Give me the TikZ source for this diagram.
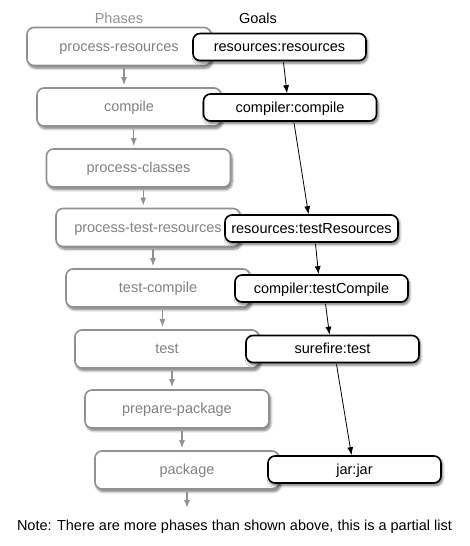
\documentclass[tikz,border=0pt]{standalone}
\usepackage{fontspec}
\setmainfont{Liberation Sans}
\usetikzlibrary{positioning,shadows,shadows.blur,arrows.meta,calc}

\definecolor{phasegray}{RGB}{145,145,145}
\definecolor{phasetext}{RGB}{130,130,130}
\tikzset{
  phase/.style={draw=phasegray, line width=1.6pt, rounded corners=7pt, fill=white,
    minimum width=184pt, minimum height=38pt, inner sep=2pt, text=phasetext,
    text height=11pt, text depth=2pt,
    blur shadow={shadow xshift=1.5pt, shadow yshift=-2.5pt, shadow blur radius=2.5pt,
      shadow blur steps=6, shadow opacity=55}},
  goal/.style={draw=black, line width=1.6pt, rounded corners=7pt, fill=white,
    minimum width=173pt, minimum height=27pt, inner sep=2pt,
    text height=11pt, text depth=2pt,
    blur shadow={shadow xshift=1.5pt, shadow yshift=-2.5pt, shadow blur radius=2.5pt,
      shadow blur steps=6, shadow opacity=55}},
  phasearrow/.style={draw=phasegray, line width=1.3pt, -{Latex[length=8pt,width=6pt]}},
  goalarrow/.style={draw=black, line width=0.8pt, -{Latex[length=8pt,width=6pt]}}
}

\begin{document}
\begin{tikzpicture}[x=1pt,y=1pt,font=\fontsize{14.5}{17}\selectfont]
  \useasboundingbox (0,0) rectangle (470,-546);
  % headings
  \node[text=phasegray] (phases) at (119,-18) {Phases};
  \node (goals) at (258,-18) {Goals};
  % phases of the lifecycle
  \foreach \name/\x/\y/\txt in {p1/119/46.5/process-resources, p2/129/107/compile,
      p3/138.5/168/process-classes, p4/148/227.5/process-test-resources,
      p5/158/288/test-compile, p6/167/349/test, p7/177/409/prepare-package,
      p8/187/470/package} {
    \node[phase] (\name) at (\x,-\y) {\txt};
  }
  \foreach \a/\b in {p1/p2,p2/p3,p3/p4,p4/p5,p5/p6,p6/p7,p7/p8} {
    \coordinate (m) at ($(\a.south)!.5!(\b.north)$);
    \draw[phasearrow] ([yshift=-2pt]m |- \a.south) -- ([yshift=2pt]m |- \b.north);
  }
  \coordinate (pend) at (187,-508);
  \draw[phasearrow] ([yshift=-2pt]p8.south) -- (pend);
  % goals bound to phases
  \foreach \name/\x/\y/\txt in {g1/279.5/47/resources:resources, g2/290/107.5/compiler:compile,
      g3/311.5/228.5/resources:testResources, g4/321.5/288.5/compiler:testCompile,
      g5/332.5/349/surefire:test, g6/354.5/469.5/jar:jar} {
    \node[goal] (\name) at (\x,-\y) {\txt};
  }
  \foreach \a/\b in {g1/g2,g2/g3,g3/g4,g4/g5,g5/g6} {
    \draw[goalarrow] ([xshift=4pt,yshift=-1pt]\a.south) -- ([xshift=-3pt]\b.north);
  }
  % note
  \node (note) at (234.5,-527) {Note: There are more phases than shown above, this is a partial list};
\end{tikzpicture}
\end{document}
